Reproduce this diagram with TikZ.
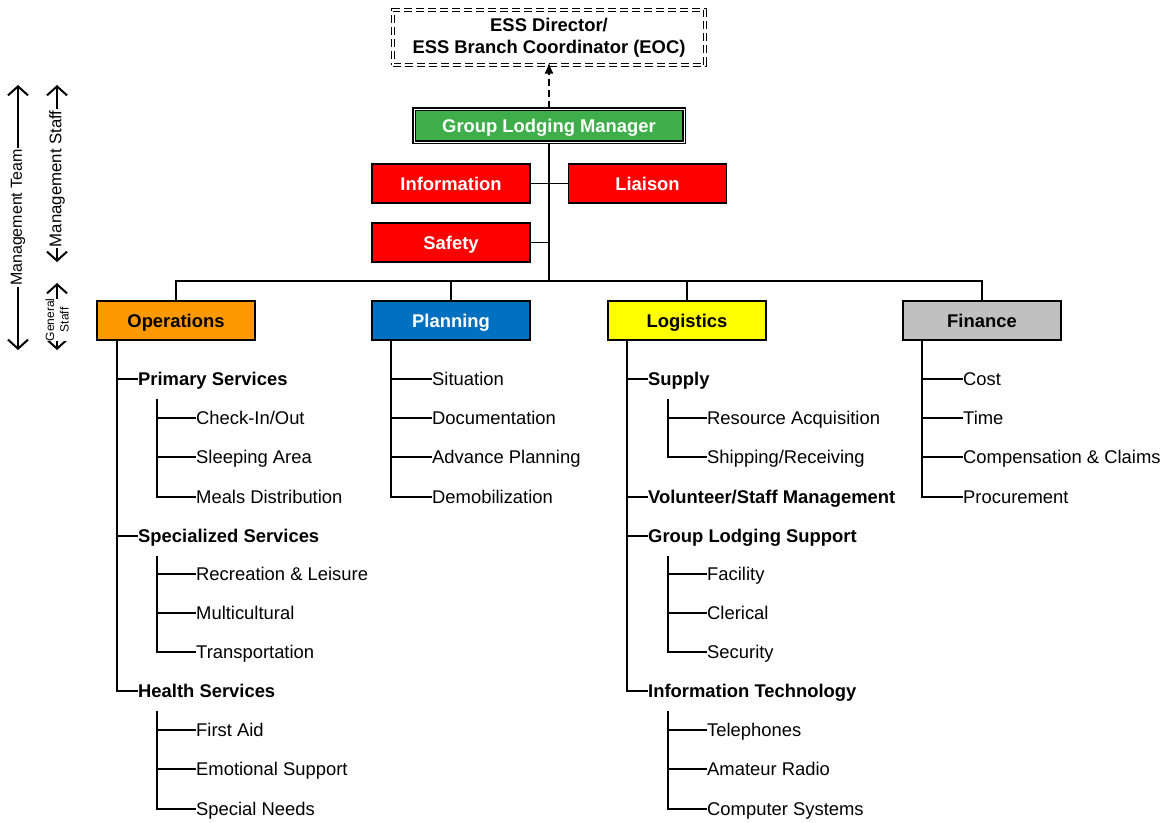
\documentclass[tikz,border=0pt]{standalone}
\usepackage{fontspec}
\setmainfont{Liberation Sans}
\usetikzlibrary{arrows.meta}

\definecolor{glmgreen}{RGB}{61,174,73}
\definecolor{opsorange}{RGB}{255,153,0}
\definecolor{planblue}{RGB}{0,112,192}
\definecolor{logyellow}{RGB}{255,255,0}
\definecolor{fingray}{RGB}{192,192,192}

\tikzset{
  unitbox/.style={draw, line width=1.4pt, minimum width=158pt, minimum height=39pt, inner sep=0pt,
    text height=13.2pt, text depth=0pt, font=\fontsize{18.4}{22}\selectfont\bfseries},
  branch/.style={anchor=west, inner sep=0pt, text height=13.2pt, text depth=0pt,
    font=\fontsize{18.4}{22}\selectfont\bfseries},
  leaf/.style={branch, font=\fontsize{18.4}{22}\selectfont},
  tree/.style={line width=1.8pt},
  sidearrow/.style={line width=2pt,
    {Straight Barb[length=9pt,width=20pt,line width=2pt]}-{Straight Barb[length=9pt,width=20pt,line width=2pt]}},
  sidelabel/.style={rotate=90, fill=white, inner sep=1pt}
}

\begin{document}
\begin{tikzpicture}[x=1pt,y=-1pt]
\useasboundingbox (0,0) rectangle (1167,822);

% top of the chart
\node[draw, dashed, dash pattern=on 8pt off 4pt, double, double distance=2pt, line width=1.2pt,
  minimum width=312pt, minimum height=55pt, align=center, font=\fontsize{18.4}{22}\selectfont\bfseries]
  (ess) at (549,37.5) {ESS Director/\\ESS Branch Coordinator (EOC)};
\node[unitbox, fill=glmgreen, text=white, double, double distance=1pt, line width=1.7pt,
  minimum width=270pt, minimum height=33pt] (glm) at (549,125.5) {Group Lodging Manager};
\draw[line width=1.6pt, dash pattern=on 7pt off 4pt, -{Latex[length=11pt,width=9pt]}] (glm.north) -- ([yshift=3pt]ess.south);

% command staff
\node[unitbox, fill=red, text=white] (info) at (451,183.5) {Information};
\node[unitbox, fill=red, text=white] (liaison) at (647.5,183.5) {Liaison};
\node[unitbox, fill=red, text=white] (safety) at (451,242.5) {Safety};

% sections
\node[unitbox, fill=opsorange] (ops) at (176,320.5) {Operations};
\node[unitbox, fill=planblue, text=white] (plan) at (451,320.5) {Planning};
\node[unitbox, fill=logyellow] (log) at (687,320.5) {Logistics};
\node[unitbox, fill=fingray] (fin) at (982,320.5) {Finance};

\coordinate (bar) at (549,281);
\draw[line width=2.4pt] (glm.south) -- (bar);
\draw[tree] (info.east) -- (liaison.west);
\draw[tree] (safety.east) -- (safety.east -| bar);
\draw[tree] (ops.north) |- (fin.north |- bar) -- (fin.north);
\draw[tree] (plan.north) -- (plan.north |- bar);
\draw[tree] (log.north) -- (log.north |- bar);

% Operations
\node[branch] (prim) at (138,379) {Primary Services};
\node[leaf] (checkin) at (196,418) {Check-In/Out};
\node[leaf] (sleep) at (196,457) {Sleeping Area};
\node[leaf] (meals) at (196,497) {Meals Distribution};
\node[branch] (spec) at (138,536) {Specialized Services};
\node[leaf] (recr) at (196,574) {Recreation \& Leisure};
\node[leaf] (multi) at (196,613) {Multicultural};
\node[leaf] (transp) at (196,652) {Transportation};
\node[branch] (health) at (138,691) {Health Services};
\node[leaf] (aid) at (196,730) {First Aid};
\node[leaf] (emot) at (196,769) {Emotional Support};
\node[leaf] (needs) at (196,809) {Special Needs};

\coordinate (opsT) at ([xshift=21pt]ops.south west);
\draw[tree] (opsT) |- (health.west);
\draw[tree] (opsT |- prim.west) -- (prim.west);
\draw[tree] (opsT |- spec.west) -- (spec.west);
\coordinate (primT) at (157,399);
\draw[tree] (primT) |- (meals.west);
\draw[tree] (primT |- checkin.west) -- (checkin.west);
\draw[tree] (primT |- sleep.west) -- (sleep.west);
\coordinate (specT) at (157,556);
\draw[tree] (specT) |- (transp.west);
\draw[tree] (specT |- recr.west) -- (recr.west);
\draw[tree] (specT |- multi.west) -- (multi.west);
\coordinate (healthT) at (157,711);
\draw[tree] (healthT) |- (needs.west);
\draw[tree] (healthT |- aid.west) -- (aid.west);
\draw[tree] (healthT |- emot.west) -- (emot.west);

% Planning
\node[leaf] (situ) at (432,379) {Situation};
\node[leaf] (docu) at (432,418) {Documentation};
\node[leaf] (advp) at (432,457) {Advance Planning};
\node[leaf] (demob) at (432,497) {Demobilization};
\coordinate (planT) at ([xshift=20pt]plan.south west);
\draw[tree] (planT) |- (demob.west);
\draw[tree] (planT |- situ.west) -- (situ.west);
\draw[tree] (planT |- docu.west) -- (docu.west);
\draw[tree] (planT |- advp.west) -- (advp.west);

% Logistics
\node[branch] (supply) at (648,379) {Supply};
\node[leaf] (resacq) at (707,418) {Resource Acquisition};
\node[leaf] (shipp) at (707,457) {Shipping/Receiving};
\node[branch] (volun) at (648,497) {Volunteer/Staff Management};
\node[branch] (glsup) at (648,536) {Group Lodging Support};
\node[leaf] (facil) at (707,574) {Facility};
\node[leaf] (cleric) at (707,613) {Clerical};
\node[leaf] (secur) at (707,652) {Security};
\node[branch] (infotech) at (648,691) {Information Technology};
\node[leaf] (phones) at (707,730) {Telephones};
\node[leaf] (radio) at (707,769) {Amateur Radio};
\node[leaf] (compsys) at (707,809) {Computer Systems};

\coordinate (logT) at ([xshift=20pt]log.south west);
\draw[tree] (logT) |- (infotech.west);
\draw[tree] (logT |- supply.west) -- (supply.west);
\draw[tree] (logT |- volun.west) -- (volun.west);
\draw[tree] (logT |- glsup.west) -- (glsup.west);
\coordinate (supplyT) at (668,399);
\draw[tree] (supplyT) |- (shipp.west);
\draw[tree] (supplyT |- resacq.west) -- (resacq.west);
\coordinate (glsupT) at (668,556);
\draw[tree] (glsupT) |- (secur.west);
\draw[tree] (glsupT |- facil.west) -- (facil.west);
\draw[tree] (glsupT |- cleric.west) -- (cleric.west);
\coordinate (itT) at (668,711);
\draw[tree] (itT) |- (compsys.west);
\draw[tree] (itT |- phones.west) -- (phones.west);
\draw[tree] (itT |- radio.west) -- (radio.west);

% Finance
\node[leaf] (cost) at (963,379) {Cost};
\node[leaf] (time) at (963,418) {Time};
\node[leaf] (comp) at (963,457) {Compensation \& Claims};
\node[leaf] (procu) at (963,497) {Procurement};
\coordinate (finT) at ([xshift=20pt]fin.south west);
\draw[tree] (finT) |- (procu.west);
\draw[tree] (finT |- cost.west) -- (cost.west);
\draw[tree] (finT |- time.west) -- (time.west);
\draw[tree] (finT |- comp.west) -- (comp.west);

% side scale
\coordinate (teamTop) at (18,85);
\coordinate (teamBot) at (18,350);
\draw[sidearrow] (teamTop) -- (teamBot)
  node[pos=0.5, sidelabel, font=\fontsize{16}{18}\selectfont] (teamLabel) {Management Team};
\coordinate (staffTop) at (57,85);
\coordinate (staffBot) at (57,262);
\draw[sidearrow] (staffTop) -- (staffBot)
  node[pos=0.53, sidelabel, font=\fontsize{16.8}{19}\selectfont] (staffLabel) {Management Staff};
\coordinate (genTop) at (57,283);
\coordinate (genBot) at (57,350);
\draw[sidearrow] (genTop) -- (genBot)
  node[pos=0.55, sidelabel, align=center, inner sep=0pt, font=\fontsize{12}{14.5}\selectfont] (genLabel) {General\\Staff};

\end{tikzpicture}
\end{document}
